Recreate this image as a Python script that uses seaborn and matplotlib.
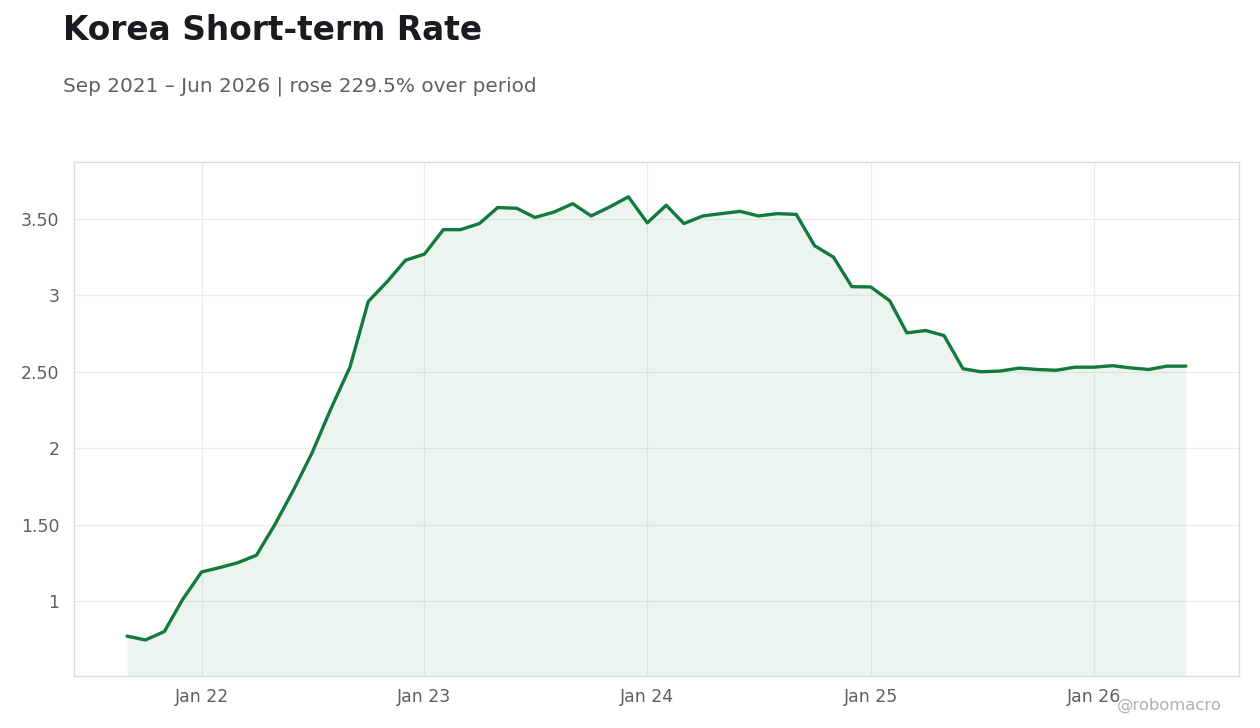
import pandas as pd
import matplotlib
matplotlib.use("Agg")
import matplotlib.pyplot as plt
import matplotlib.dates as mdates
from matplotlib.ticker import FuncFormatter, FixedLocator
import seaborn as sns

# monthly readings, Sep 2021 .. Jun 2026
start_month = "2021-09-01"
rate = [0.77, 0.745, 0.80, 1.01, 1.19, 1.22, 1.25, 1.30, 1.50, 1.73,
        1.97, 2.26, 2.53, 2.96, 3.09, 3.23, 3.27, 3.43, 3.43, 3.47,
        3.575, 3.57, 3.51, 3.545, 3.60, 3.52, 3.58, 3.645, 3.475, 3.59,
        3.47, 3.52, 3.535, 3.55, 3.52, 3.535, 3.53, 3.325, 3.25, 3.057,
        3.055, 2.965, 2.755, 2.77, 2.737, 2.52, 2.50, 2.505, 2.524, 2.515,
        2.51, 2.53, 2.53, 2.54, 2.526, 2.515, 2.537, 2.537]
y_ticks = [1, 1.5, 2, 2.5, 3, 3.5]

title = "Korea Short-term Rate"
subtitle = "Sep 2021 \u2013 Jun 2026 | rose 229.5% over period"
credit = "@robomacro"

df = pd.DataFrame({
    "date": pd.date_range(start_month, periods=len(rate), freq="MS"),
    "rate": rate,
})

green = "#137a3b"
grey_txt = "#5c5f66"

sns.set_theme(style="whitegrid")
plt.rcParams["font.family"] = ["DejaVu Sans"]

fig = plt.figure(figsize=(12.6, 7.28), dpi=100)
ax = fig.add_axes([0.0587, 0.0714, 0.9246, 0.7061])

sns.lineplot(data=df, x="date", y="rate", color=green, linewidth=2.4, ax=ax)
ax.fill_between(df["date"], df["rate"], 0, color=green, alpha=0.08, linewidth=0)

ax.set_ylim(0.509, 3.873)
ax.set_xlim(pd.Timestamp("2021-06-06"), pd.Timestamp("2026-08-27"))

ax.yaxis.set_major_locator(FixedLocator(y_ticks))
ax.yaxis.set_major_formatter(FuncFormatter(
    lambda v, p: f"{v:.0f}" if abs(v - round(v)) < 1e-9 else f"{v:.2f}"))
ax.xaxis.set_major_locator(mdates.YearLocator(month=1, day=1))
ax.xaxis.set_major_formatter(mdates.DateFormatter("%b %y"))

ax.set_xlabel("")
ax.set_ylabel("")
ax.set_facecolor("white")
ax.grid(True, color="#ececec", linewidth=0.8)
for s in ax.spines.values():
    s.set_color("#dcdcdc")
    s.set_linewidth(1.0)
ax.tick_params(axis="both", labelsize=12.5, colors=grey_txt, length=3.5,
               width=0.8, pad=7)
ax.tick_params(axis="x", pad=5)

fig.text(0.05, 0.958, title, fontsize=23.7, fontweight="bold",
         color="#1a1a1f", va="center", ha="left")
fig.text(0.05, 0.882, subtitle, fontsize=14.4, color=grey_txt,
         va="center", ha="left")
fig.text(0.97, 0.031, credit, fontsize=11.8, color="#b0b0b0",
         va="center", ha="right")

fig.savefig("out.png", dpi=100, facecolor="white")
